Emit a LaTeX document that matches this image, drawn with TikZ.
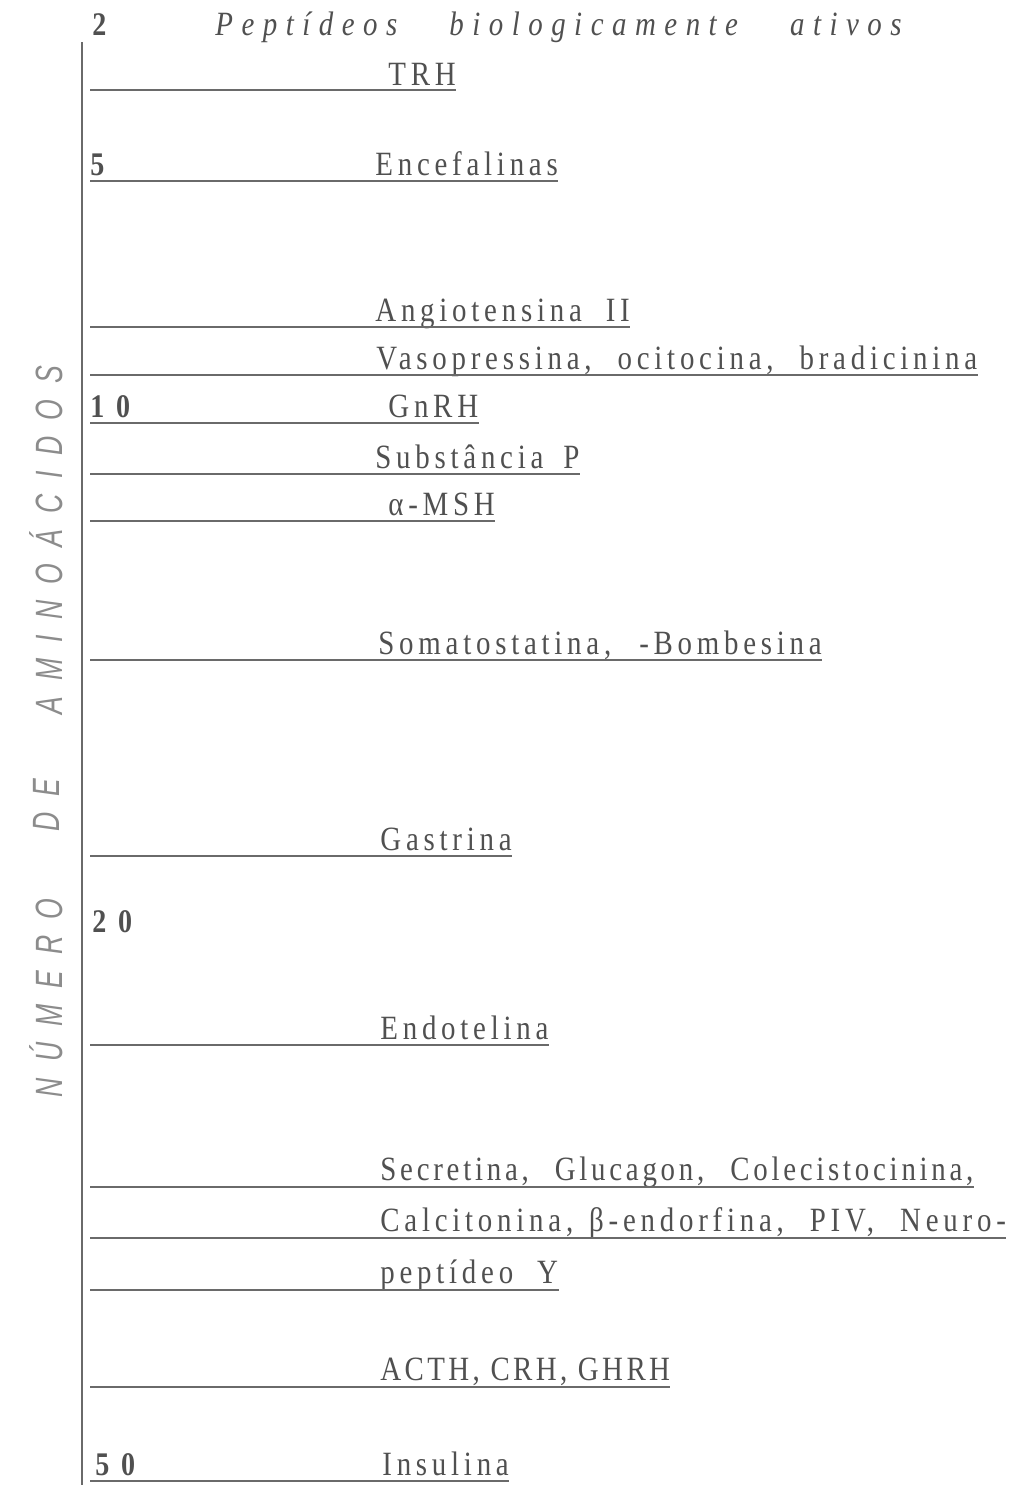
\documentclass[tikz,border=0pt]{standalone}
\usepackage{fontspec}
\setmainfont{Liberation Serif}
\newfontfamily\scanfont[FakeStretch=0.85,LetterSpace=14]{Liberation Serif}
\newfontfamily\headfont[FakeStretch=0.85,LetterSpace=25]{Liberation Serif}
\newfontfamily\handfont[FakeStretch=0.7,LetterSpace=42]{Liberation Sans}
\definecolor{ink}{HTML}{505050}
\definecolor{pencil}{HTML}{8C8C8C}
\tikzset{
  lbl/.style={anchor=base west,inner sep=0pt,text=ink,
    font=\scanfont\fontsize{17}{19}\selectfont},
  num/.style={lbl,font=\scanfont\bfseries\fontsize{16.5}{18}\selectfont},
  hand/.style={inner sep=0pt,text=pencil,rotate=90,
    font=\handfont\itshape\fontsize{19}{21}\selectfont},
  rule/.style={draw=ink!85,line width=1pt},
}
\begin{document}
\begin{tikzpicture}[x=0.5pt,y=-0.5pt]
        \useasboundingbox[fill=white] (0,0) rectangle (1013,1485);

        % axis
        \coordinate (top) at (82,42);
        \coordinate (bottom) at (82,1485);
        \draw[rule] (top) -- (bottom);

        % handwritten axis title
        \node[hand] (numero) at (46,998) {NÚMERO};
        \node[hand] (de) at (46,805) {DE};
        \node[hand] (aminoacidos) at (46,540) {AMINOÁCIDOS};

        % header
        \node[num] (n2) at (92,35) {2};
        \node[lbl,font=\headfont\itshape\fontsize{17}{19}\selectfont] (title) at (215,35)
             {Peptídeos\hspace{26pt}biologicamente\hspace{26pt}ativos};

        % rows
        \node[lbl] (trh) at (388,85) {TRH};
        \coordinate (r-trh) at (90,90);
        \draw[rule] (r-trh) -- (r-trh -| trh.east);

        \node[num] (n5) at (90,175) {5};
        \node[lbl] (encef) at (375,175) {Encefalinas};
        \coordinate (r-encef) at (90,181);
        \draw[rule] (r-encef) -- (r-encef -| encef.east);

        \node[lbl] (angio) at (375,321) {Angiotensina\hspace{12pt}II};
        \coordinate (r-angio) at (90,327);
        \draw[rule] (r-angio) -- (r-angio -| angio.east);

        \node[lbl] (vaso) at (376,369) {Vasopressina,\hspace{13pt}ocitocina,\hspace{13pt}bradicinina};
        \coordinate (r-vaso) at (90,375);
        \draw[rule] (r-vaso) -- (r-vaso -| vaso.east);

        \node[num] (n10) at (90,417) {1 0};
        \node[lbl] (gnrh) at (388,417) {GnRH};
        \coordinate (r-gnrh) at (90,423);
        \draw[rule] (r-gnrh) -- (r-gnrh -| gnrh.east);

        \node[lbl] (subst) at (375,468) {Substância\hspace{10pt}P};
        \coordinate (r-subst) at (90,474);
        \draw[rule] (r-subst) -- (r-subst -| subst.east);

        \node[lbl] (msh) at (388,515) {α-MSH};
        \coordinate (r-msh) at (90,521);
        \draw[rule] (r-msh) -- (r-msh -| msh.east);

        \node[lbl] (somato) at (378,654) {Somatostatina,\hspace{14pt}-Bombesina};
        \coordinate (r-somato) at (90,660);
        \draw[rule] (r-somato) -- (r-somato -| somato.east);

        \node[lbl] (gastr) at (380,850) {Gastrina};
        \coordinate (r-gastr) at (90,856);
        \draw[rule] (r-gastr) -- (r-gastr -| gastr.east);

        \node[num] (n20) at (92,932) {2 0};

        \node[lbl] (endot) at (380,1039) {Endotelina};
        \coordinate (r-endot) at (90,1045);
        \draw[rule] (r-endot) -- (r-endot -| endot.east);

        \node[lbl,font=\scanfont\addfontfeature{LetterSpace=11}\fontsize{17}{19}\selectfont] (secr) at (380,1180) {Secretina,\hspace{13pt}Glucagon,\hspace{13pt}Colecistocinina,};
        \coordinate (r-secr) at (90,1187);
        \draw[rule] (r-secr) -- (r-secr -| secr.east);

        \node[lbl] (calci) at (380,1231) {Calcitonina,\hspace{8pt}β-endorfina,\hspace{13pt}PIV,\hspace{13pt}Neuro-};
        \coordinate (r-calci) at (90,1238);
        \draw[rule] (r-calci) -- (r-calci -| calci.east);

        \node[lbl] (neuro) at (380,1283) {peptídeo\hspace{12pt}Y};
        \coordinate (r-neuro) at (90,1290);
        \draw[rule] (r-neuro) -- (r-neuro -| neuro.east);

        \node[lbl,font=\scanfont\addfontfeature{LetterSpace=10}\fontsize{17}{19}\selectfont] (acth) at (380,1380) {ACTH, CRH, GHRH};
        \coordinate (r-acth) at (90,1387);
        \draw[rule] (r-acth) -- (r-acth -| acth.east);

        \node[num] (n50) at (95,1475) {5 0};
        \node[lbl] (insul) at (382,1475) {Insulina};
        \coordinate (r-insul) at (90,1481);
        \draw[rule] (r-insul) -- (r-insul -| insul.east);

        \end{tikzpicture}
\end{document}
